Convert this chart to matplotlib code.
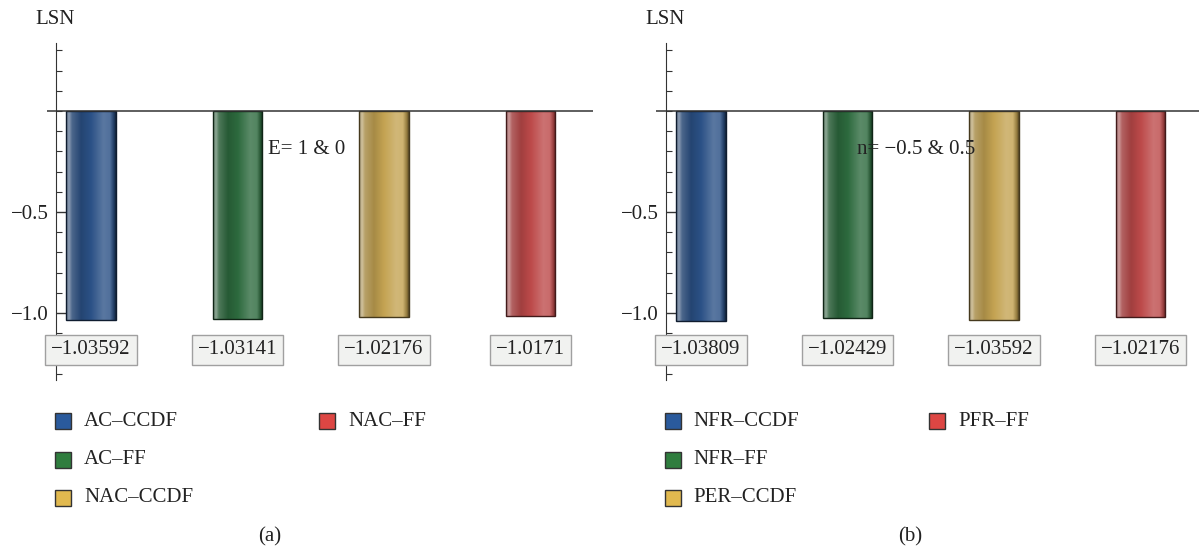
import numpy as np
import matplotlib
matplotlib.use("Agg")
import matplotlib.pyplot as plt
from matplotlib.colors import to_rgb
from matplotlib.patches import Rectangle
from matplotlib.ticker import MultipleLocator

plt.rcParams['font.family'] = ['Liberation Serif', 'DejaVu Serif']
plt.rcParams['axes.unicode_minus'] = True

# data
labels_a = ["AC\u2013CCDF", "AC\u2013FF", "NAC\u2013CCDF", "NAC\u2013FF"]
values_a = [-1.03592, -1.03141, -1.02176, -1.0171]
labels_b = ["NFR\u2013CCDF", "NFR\u2013FF", "PER\u2013CCDF", "PFR\u2013FF"]
values_b = [-1.03809, -1.02429, -1.03592, -1.02176]
value_text_a = ["\u22121.03592", "\u22121.03141", "\u22121.02176", "\u22121.0171"]
value_text_b = ["\u22121.03809", "\u22121.02429", "\u22121.03592", "\u22121.02176"]

bar_colors = ["#2b5186", "#2d6a3e", "#c4a352", "#bd4a4a"]
legend_colors = ["#2a5a9c", "#2f7d3e", "#e1b94f", "#dd4643"]

FS = 15
TXT = '#222222'
W, H = 1199, 551
fig = plt.figure(figsize=(W / 100, H / 100), dpi=100)


def mix(c, other, t):
    c = np.array(c)
    return c * (1 - t) + np.array(other) * t


def shade(color):
    base = np.array(to_rgb(color))
    pos = [0.0, 0.06, 0.12, 0.3, 0.5, 0.75, 0.88, 0.96, 1.0]
    cols = [mix(base, (0.55, 0.55, 0.55), 0.6),
            mix(base, (0.85, 0.85, 0.85), 0.55),
            mix(base, (0.6, 0.6, 0.6), 0.3),
            base * 0.85,
            base,
            mix(base, (1, 1, 1), 0.22),
            mix(base, (1, 1, 1), 0.18),
            base * 0.75,
            base * 0.45]
    xs = np.linspace(0, 1, 200)
    img = np.stack([np.interp(xs, pos, [c[i] for c in cols]) for i in range(3)], axis=-1)
    return img[np.newaxis, :, :]


def panel(left_px, right_px, axis_px, values, texts, annot):
    bottom_px, top_px = 380, 43
    ax = fig.add_axes([left_px / W, 1 - bottom_px / H,
                       (right_px - left_px) / W, (bottom_px - top_px) / H])
    x = np.arange(1, len(values) + 1)
    bars = ax.bar(x, values, width=0.34, color=bar_colors, zorder=2)
    for b, c in zip(bars, bar_colors):
        x0, w = b.get_x(), b.get_width()
        y0, h = b.get_y(), b.get_height()
        im = ax.imshow(shade(c), extent=(x0, x0 + w, y0 + h, y0), aspect='auto',
                       interpolation='bilinear', zorder=3)
        im.set_clip_path(b)
        edge = np.array(to_rgb(c)) * 0.35
        ax.add_patch(Rectangle((x0, y0), w, h, fill=False,
                               edgecolor=edge, lw=1.0, zorder=4))
    for xi, t in zip(x, texts):
        ax.text(xi, -1.183, t, ha='center', va='center', fontsize=FS, color=TXT,
                bbox=dict(boxstyle='square,pad=0.28', fc='#f1f2f0', ec='#a0a0a0', lw=1.0),
                zorder=5)
    # bar centres are 146.5 px apart, first one 35 px right of the y axis
    step = 146.5
    first_center = axis_px + 35
    ax.set_xlim(1 - (first_center - left_px) / step, 1 + (right_px - first_center) / step)
    y_per_px = 0.5 / 101
    ax.set_ylim(-1.0 - (bottom_px - 313) * y_per_px, (111 - top_px) * y_per_px)
    ax.axhline(0, color='#333333', lw=1.1, zorder=6)
    for s in ['top', 'right', 'bottom']:
        ax.spines[s].set_visible(False)
    ax.spines['left'].set_position(('data', 1 - (first_center - axis_px) / step))
    ax.spines['left'].set_color('#333333')
    ax.set_xticks([])
    ax.set_yticks([-1.0, -0.5])
    ax.yaxis.set_minor_locator(MultipleLocator(0.1))
    ax.tick_params(axis='y', which='major', direction='in', length=7, width=1,
                   color='#333333', labelsize=FS, labelcolor=TXT, pad=5)
    ax.tick_params(axis='y', which='minor', direction='in', length=4, width=0.8,
                   color='#333333')
    ax.yaxis.set_major_formatter(matplotlib.ticker.FuncFormatter(
        lambda v, p: ("\u2212%.1f" % abs(v)) if v < 0 else "%.1f" % v))
    ax.text(2.47, -0.19, annot, ha='center', va='center', fontsize=FS,
            color=TXT, zorder=7)
    ax.patch.set_alpha(0)
    return ax


axa = panel(47, 593, 56, values_a, value_text_a, "E= 1 & 0")
axb = panel(656, 1199, 666, values_b, value_text_b, "n= \u22120.5 & 0.5")

fig.text(55 / W, 1 - 20 / H, "LSN", ha='center', va='center', fontsize=FS, color=TXT)
fig.text(665 / W, 1 - 20 / H, "LSN", ha='center', va='center', fontsize=FS, color=TXT)


def legend(labels, sq_x, text_x):
    rows = [421, 460, 498, 421]
    cols = [0, 0, 0, 1]
    for lab, c, r, ci in zip(labels, legend_colors, rows, cols):
        fig.add_artist(Rectangle((sq_x[ci] / W, 1 - (r + 8) / H), 16 / W, 16 / H,
                                 transform=fig.transFigure, fc=c, ec='#333333', lw=1.0))
        fig.text(text_x[ci] / W, 1 - r / H, lab, ha='left', va='center',
                 fontsize=FS, color=TXT)


legend(labels_a, [55, 319], [84, 348])
legend(labels_b, [665, 929], [693, 958])

fig.text(270 / W, 1 - 537 / H, "(a)", ha='center', va='center', fontsize=FS, color=TXT)
fig.text(910 / W, 1 - 537 / H, "(b)", ha='center', va='center', fontsize=FS, color=TXT)

fig.savefig("out.png", dpi=100)
